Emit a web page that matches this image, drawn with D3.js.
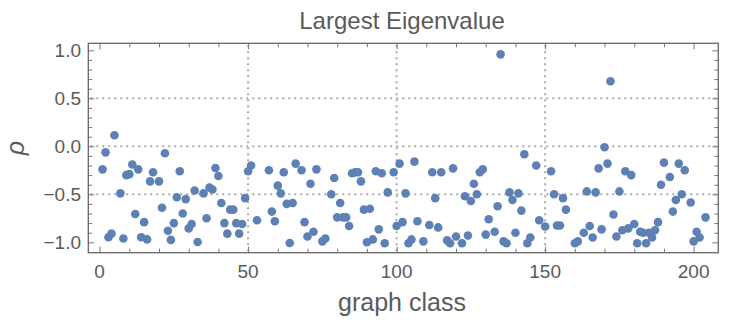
<!DOCTYPE html>
<html>
<head>
<meta charset="utf-8">
<script src="https://cdn.jsdelivr.net/npm/d3@7"></script>
<style>
  body { margin: 0; background: #fff; }
  text { font-family: "Liberation Sans", Arial, sans-serif; fill: #5a5a5a; }
</style>
</head>
<body>
<div id="chart"></div>
<script>
// graph class index and largest eigenvalue (rho)
var graphClass = [
    1, 2, 3, 4, 5, 7, 8, 9, 10, 11, 12, 13, 14, 15, 16, 17, 18, 20, 21, 22,
    23, 24, 25, 26, 27, 28, 29, 30, 31, 32, 33, 35, 36, 37, 38, 39, 40, 41, 42, 43,
    44, 45, 46, 47, 48, 49,
    50, 51, 53, 57, 58, 59, 60, 61, 62, 63, 64, 65, 66, 68, 69, 70, 71, 72, 73, 75,
    76, 78, 79, 80, 81, 82, 83, 84, 85, 86, 87, 88, 89, 90, 91, 92, 93, 94, 95, 96,
    97, 99, 100,
    101, 102, 103, 104, 105, 106, 107, 109, 111, 112, 113, 114, 115, 117, 118, 119, 120, 122, 123, 124,
    125, 126, 127, 128, 129, 130, 131, 133, 134, 135, 136, 137, 138, 139, 140, 141, 142, 143, 144, 145,
    147, 148, 150, 152, 153,
    154, 155, 156, 157, 160, 161, 163, 164, 165, 166, 167, 168, 169, 170, 171, 172, 173, 174, 175, 176,
    177, 178, 179, 180, 181, 182, 183, 184, 185, 186, 187, 188, 189, 190, 192, 193, 194, 195, 196, 197,
    199, 200, 201, 202, 204
];
var rho = [
    -0.24, -0.063, -0.948, -0.91, 0.115, -0.49, -0.96, -0.30, -0.29, -0.19, -0.705, -0.24, -0.948, -0.79, -0.97, -0.365, -0.27, -0.365, -0.64, -0.073,
    -0.88, -0.975, -0.80, -0.53, -0.26, -0.70, -0.55, -0.855, -0.81, -0.46, -0.997, -0.49, -0.75, -0.43, -0.45, -0.226, -0.31, -0.59, -0.80, -0.91,
    -0.66, -0.66, -0.80, -0.91, -0.81, -0.54,
    -0.26, -0.20, -0.77, -0.25, -0.68, -0.78, -0.41, -0.49, -0.27, -0.60, -1.007, -0.59, -0.18, -0.25, -0.79, -0.94, -0.39, -0.89, -0.24, -0.99,
    -0.96, -0.50, -0.33, -0.74, -0.59, -0.74, -0.74, -0.83, -0.28, -0.27, -0.27, -0.365, -0.66, -1.0, -0.65, -0.97, -0.26, -0.865, -0.28, -1.01,
    -0.48, -0.27, -0.83,
    -0.18, -0.79, -0.49, -1.01, -0.97, -0.16, -0.78, -0.99, -0.82, -0.27, -0.54, -0.845, -0.27, -0.98, -1.01, -0.23, -0.94, -1.01, -0.52, -0.93,
    -0.57, -0.39, -0.50, -0.27, -0.24, -0.92, -0.76, -0.89, -0.625, 0.958, -0.99, -1.01, -0.48, -0.56, -0.90, -0.49, -0.67, -0.083, -1.01, -0.95,
    -0.20, -0.77, -0.835, -0.26, -0.50,
    -0.825, -0.825, -0.54, -0.66, -1.01, -0.99, -0.90, -0.47, -0.83, -0.95, -0.48, -0.23, -0.865, -0.01, -0.18, 0.677, -0.71, -0.94, -0.47, -0.875,
    -0.26, -0.855, -0.30, -0.81, -1.01, -0.89, -0.90, -1.01, -0.90, -0.95, -0.875, -0.79, -0.40, -0.17, -0.32, -0.68, -0.56, -0.18, -0.50, -0.25,
    -0.585, -0.99, -0.89, -0.95, -0.74
];

var xMajor = [0, 50, 100, 150, 200];
var xGrid = [50, 100, 150];
var yMajor = [-1.0, -0.5, 0.0, 0.5, 1.0];
var yGrid = [-0.5, 0.0, 0.5];

var width = 736;
var height = 326;
var margin = { top: 43.3, right: 17.7, bottom: 73.3, left: 88.3 };

var x = d3.scaleLinear()
    .domain([-3.8, 208.3])
    .range([margin.left, width - margin.right]);
var y = d3.scaleLinear()
    .domain([-1.1083, 1.073])
    .range([height - margin.bottom, margin.top]);

var svg = d3.select("#chart")
    .append("svg")
    .attr("width", width)
    .attr("height", height);

var x0 = x.range()[0], x1 = x.range()[1];
var y0 = y.range()[0], y1 = y.range()[1];

// dotted grid lines
svg.selectAll(".gx")
    .data(xGrid)
    .enter()
    .append("line")
    .attr("x1", function (d) { return x(d); })
    .attr("x2", function (d) { return x(d); })
    .attr("y1", y1 + 2)
    .attr("y2", y0)
    .attr("stroke", "#aaa")
    .attr("stroke-width", 2)
    .attr("stroke-dasharray", "2,4");

svg.selectAll(".gy")
    .data(yGrid)
    .enter()
    .append("line")
    .attr("x1", x0 + 2)
    .attr("x2", x1)
    .attr("y1", function (d) { return y(d); })
    .attr("y2", function (d) { return y(d); })
    .attr("stroke", "#aaa")
    .attr("stroke-width", 2)
    .attr("stroke-dasharray", "2,4");

// frame with inward ticks on all sides
function styleAxis(g) {
    g.select(".domain").remove();
    g.selectAll(".tick line").attr("stroke", "#777").attr("stroke-width", 1);
}

var xMinorTicks = d3.range(0, 210, 10);
var yMinorTicks = d3.range(-11, 11).map(function (i) { return i / 10; });

function isMajor(v, list) {
    return list.some(function (m) { return Math.abs(m - v) < 1e-6; });
}

var xMinor = xMinorTicks.filter(function (v) { return !isMajor(v, xMajor); });
var yMinor = yMinorTicks.filter(function (v) { return !isMajor(v, yMajor) && v > -1.1 && v < 1.07; });

// bottom
svg.append("g")
    .attr("transform", "translate(0," + y0 + ")")
    .call(d3.axisTop(x).tickValues(xMinor).tickSize(4).tickFormat(""))
    .call(styleAxis);
svg.append("g")
    .attr("transform", "translate(0," + y0 + ")")
    .call(d3.axisTop(x).tickValues(xMajor).tickSize(6).tickFormat(""))
    .call(styleAxis);
// top
svg.append("g")
    .attr("transform", "translate(0," + y1 + ")")
    .call(d3.axisBottom(x).tickValues(xMinor).tickSize(4).tickFormat(""))
    .call(styleAxis);
svg.append("g")
    .attr("transform", "translate(0," + y1 + ")")
    .call(d3.axisBottom(x).tickValues(xMajor).tickSize(6).tickFormat(""))
    .call(styleAxis);
// left
svg.append("g")
    .attr("transform", "translate(" + x0 + ",0)")
    .call(d3.axisRight(y).tickValues(yMinor).tickSize(4).tickFormat(""))
    .call(styleAxis);
svg.append("g")
    .attr("transform", "translate(" + x0 + ",0)")
    .call(d3.axisRight(y).tickValues(yMajor).tickSize(6).tickFormat(""))
    .call(styleAxis);
// right
svg.append("g")
    .attr("transform", "translate(" + x1 + ",0)")
    .call(d3.axisLeft(y).tickValues(yMinor).tickSize(4).tickFormat(""))
    .call(styleAxis);
svg.append("g")
    .attr("transform", "translate(" + x1 + ",0)")
    .call(d3.axisLeft(y).tickValues(yMajor).tickSize(6).tickFormat(""))
    .call(styleAxis);

svg.append("rect")
    .attr("x", x0)
    .attr("y", y1)
    .attr("width", x1 - x0)
    .attr("height", y0 - y1)
    .attr("fill", "none")
    .attr("stroke", "#666")
    .attr("stroke-width", 1.3);

// tick labels
svg.selectAll(".xl")
    .data(xMajor)
    .enter()
    .append("text")
    .attr("x", function (d) { return x(d); })
    .attr("y", 278)
    .attr("text-anchor", "middle")
    .style("font-size", "19px")
    .text(function (d) { return d; });

svg.selectAll(".yl")
    .data(yMajor)
    .enter()
    .append("text")
    .attr("x", 81)
    .attr("y", function (d) { return y(d); })
    .attr("dy", "0.36em")
    .attr("text-anchor", "end")
    .style("font-size", "19px")
    .text(function (d) { return d3.format(".1f")(d).replace("-", "\u2212"); });

// points
svg.selectAll(".pt")
    .data(graphClass)
    .enter()
    .append("circle")
    .attr("cx", function (d) { return x(d); })
    .attr("cy", function (d, i) { return y(rho[i]); })
    .attr("r", 4.3)
    .attr("fill", "#5e81b5");

// titles
svg.append("text")
    .attr("x", 402)
    .attr("y", 29)
    .attr("text-anchor", "middle")
    .style("font-size", "24px")
    .text("Largest Eigenvalue");

svg.append("text")
    .attr("x", 402)
    .attr("y", 311)
    .attr("text-anchor", "middle")
    .style("font-size", "25px")
    .text("graph class");

svg.append("text")
    .attr("transform", "translate(24,148) rotate(-90)")
    .attr("text-anchor", "middle")
    .style("font-size", "25px")
    .style("font-style", "italic")
    .text("\u03c1");
</script>
</body>
</html>
